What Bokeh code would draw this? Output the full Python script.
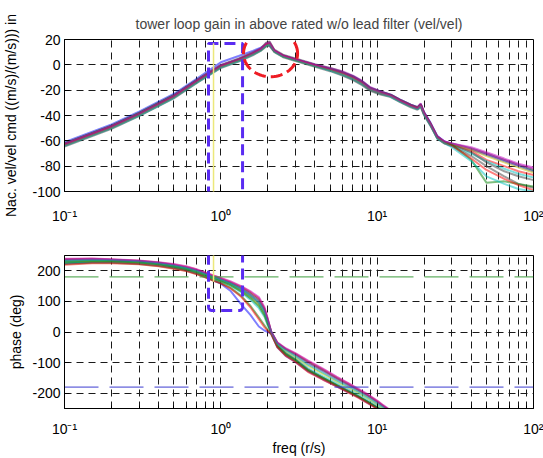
import numpy as np
from bokeh.plotting import figure
from bokeh.models import FixedTicker, PolyAnnotation, Range1d
from bokeh.layouts import column
from bokeh.embed import file_html
from bokeh.resources import INLINE

TITLE = "tower loop gain in above rated w/o lead filter (vel/vel)"
YLABEL_MAG = "Nac. vel/vel cmd ((m/s)/(m/s))) in"
YLABEL_PHASE = "phase (deg)"
XLABEL = "freq (r/s)"

X_TICKS = [0.1, 1, 10, 100]
X_TICK_LABELS = ["10\u207b\u00b9", "10\u2070", "10\u00b9", "10\u00b2"]
MAG_TICKS = [20, 0, -20, -40, -60, -80, -100]
PHASE_TICKS = [200, 100, 0, -100, -200]
PHASE_REF = [180, -180]

FREQ_MAG = [0.1, 0.2, 0.3, 0.5, 0.7, 1.0, 1.3, 1.6, 1.8, 1.95, 2.05, 2.2, 2.5, 3.0, 4.0, 5.0,
            6.0, 7.0, 8.0, 9.0, 10.5, 12.2, 14, 16.4, 18.1, 19.0, 19.9, 22, 24.2, 27, 30,
            40, 50, 65, 80, 100]

mag_c01 = [-61, -47, -37, -23, -11, 2, 7, 11, 13.5, 16, 15, 11, 7.5, 4.5, 0, -3, -6, -9, -13, -18, -21, -23.5, -27.5, -31.5, -33.5, -31, -37, -46, -56, -60.5, -63, -67, -71, -76, -80, -84]
mag_c02 = [-62, -48, -38, -24, -12, -0.5, 4.5, 9, 12, 15, 16, 11, 7, 4, -0.5, -3.5, -6, -9.5, -13.5, -18.5, -21.5, -24, -28, -32, -34, -31.5, -38, -47, -57, -61, -62, -66, -70, -75, -79, -83]
mag_c03 = [-63, -49, -39, -25, -13, -1, 4, 9, 12.5, 16.5, 17, 11, 7, 4, -0.5, -4, -7.5, -11, -15, -19.5, -22.5, -24.5, -28.5, -32.5, -34.5, -32, -38.5, -47.5, -57.5, -61, -63, -68, -75, -80, -84, -87]
mag_c04 = [-64, -50, -40, -26, -14, -2, 3, 8, 11.5, 15.5, 16.5, 10.5, 6.5, 3.5, -1, -4.5, -8, -11.5, -15.5, -20, -23, -25, -29, -33, -35, -32.5, -39, -48, -58, -62, -64, -70, -76, -82, -86, -89]
mag_c05 = [-62.5, -48.5, -38.5, -24.5, -12.5, -0.5, 4.5, 9.5, 12.5, 17, 18, 11.5, 7.5, 4.5, 0, -2.5, -5, -8.5, -12.5, -17.5, -21, -23.5, -27.5, -31.5, -33.5, -30.5, -37.5, -46.5, -56.5, -60.5, -62, -65, -69, -74, -78, -81]
mag_c06 = [-63.5, -49.5, -39.5, -25.5, -13.5, -1.5, 3.5, 8.5, 11.5, 15, 16, 10.5, 6.5, 3.5, -1, -4, -7, -10.5, -14.5, -19, -22, -24.5, -28.5, -32.5, -34, -32, -38, -47, -57, -61, -63, -67, -72, -77, -81, -85]
mag_c07 = [-64.5, -50.5, -40.5, -26.5, -14.5, -2.5, 2.5, 7.5, 11, 14.5, 15, 10, 6, 3, -1.5, -5, -8.5, -12, -16, -20.5, -23.5, -25.5, -29.5, -33.5, -35.5, -33.5, -39.5, -48.5, -58, -62, -64, -72, -80, -88, -94, -97]
mag_c08 = [-62, -48, -38, -24, -12, 0, 5, 10, 13, 17.5, 18.5, 12, 8, 5, 0.5, -2.5, -5.5, -9, -13, -18, -21, -23.5, -27.5, -31.5, -33.5, -31, -37.5, -46.5, -56.5, -61, -63, -69, -77, -84, -88, -91]
mag_c09 = [-63, -49, -39, -25, -13, -1, 4, 9, 12, 16, 17, 11, 7, 4, -0.5, -3.5, -6.5, -10, -14, -19, -22, -24, -28, -32, -34, -31.5, -38, -47, -57, -61.5, -63, -75, -93, -92, -94, -96]
mag_c10 = [-63.5, -49.5, -39.5, -25.5, -13.5, -1.5, 3.5, 8.5, 12, 16, 16.5, 11, 7, 4, -0.5, -4, -7, -10.5, -14.5, -19.5, -22.5, -24.5, -28.5, -32.5, -34.5, -32, -38.5, -47.5, -57.5, -62, -64, -74, -83, -90, -95, -99]
mag_c11 = [-64, -50, -40, -26, -14, -2, 3, 8, 11.5, 15, 16, 10.5, 6.5, 3.5, -1, -4.5, -7.5, -11, -15, -19.5, -22.5, -25, -29, -33, -35, -32.5, -39, -48, -58, -62, -65, -76, -88, -94, -98, -100]
mag_c12 = [-62.5, -48.5, -38.5, -24.5, -12.5, -0.5, 4.5, 9.5, 12.5, 16.5, 17.5, 11.5, 7.5, 4.5, 0, -3, -6, -9.5, -13.5, -18.5, -21.5, -24, -28, -32, -34, -31, -37.5, -46.5, -56.5, -60.5, -62, -66, -70, -75, -79, -82]

FREQ_PHASE = [0.1, 0.15, 0.2, 0.3, 0.4, 0.5, 0.6, 0.7, 0.8, 0.9, 1.0, 1.15, 1.35, 1.55, 1.75, 1.9,
              2.0, 2.1, 2.3, 2.6, 3.0, 3.6, 4.5, 5.5, 6.5, 7.6, 8.8, 10, 11, 12.5]

ph_c01 = [224, 228, 228, 224, 218, 210, 202, 192, 180, 168, 158, 135, 90, 55, 18, 5, 0, -6, -50, -78, -98, -128, -155, -178, -196, -214, -233, -250, -262, -278]
ph_c02 = [222, 226, 226, 222, 216, 208, 200, 190, 179, 168, 160, 145, 118, 85, 48, 22, 6, -5, -48, -75, -95, -126, -152, -175, -194, -212, -231, -249, -262, -278]
ph_c03 = [238, 239, 237, 233, 227, 221, 213, 204, 193, 184, 176, 164, 148, 130, 110, 78, 40, 0, -35, -55, -71, -95, -122, -148, -168, -188, -207, -226, -242, -262]
ph_c04 = [226, 230, 230, 226, 220, 212, 204, 194, 183, 173, 165, 152, 130, 105, 78, 50, 20, -3, -42, -68, -88, -118, -145, -168, -187, -205, -224, -242, -256, -272]
ph_c05 = [235, 237, 235, 231, 225, 218, 210, 201, 190, 180, 172, 160, 142, 122, 100, 70, 35, 1, -38, -58, -76, -102, -128, -154, -174, -193, -212, -231, -246, -265]
ph_c06 = [230, 233, 232, 228, 222, 215, 207, 197, 186, 176, 168, 156, 136, 114, 90, 60, 28, -2, -40, -63, -82, -110, -137, -161, -181, -199, -218, -237, -251, -268]
ph_c07 = [232, 235, 234, 230, 224, 216, 208, 199, 188, 178, 170, 158, 139, 118, 95, 65, 30, -1, -44, -70, -90, -122, -150, -173, -192, -210, -229, -246, -259, -275]
ph_c08 = [237, 238, 236, 232, 226, 219, 211, 202, 191, 181, 173, 161, 145, 126, 105, 75, 38, 1, -36, -56, -73, -98, -125, -151, -171, -190, -209, -228, -243, -262]
ph_c09 = [228, 231, 231, 227, 221, 213, 205, 195, 184, 174, 166, 153, 133, 110, 85, 55, 24, -3, -46, -72, -92, -124, -150, -174, -193, -211, -230, -247, -260, -276]
ph_c10 = [220, 225, 225, 221, 215, 207, 199, 189, 178, 167, 159, 143, 115, 80, 42, 16, 4, -7, -50, -78, -98, -130, -156, -178, -197, -215, -234, -251, -264, -279]
ph_c11 = [233, 236, 235, 231, 225, 217, 209, 200, 189, 179, 171, 159, 140, 119, 97, 67, 32, 0, -39, -60, -79, -106, -133, -158, -178, -196, -215, -234, -248, -266]
ph_c12 = [239, 240, 238, 234, 228, 222, 215, 205, 194, 185, 177, 166, 150, 133, 114, 82, 42, 1, -34, -53, -69, -93, -120, -146, -166, -186, -205, -224, -240, -260]

MAG_CURVES = [mag_c01, mag_c02, mag_c03, mag_c04, mag_c05, mag_c06,
              mag_c07, mag_c08, mag_c09, mag_c10, mag_c11, mag_c12]
PHASE_CURVES = [ph_c01, ph_c02, ph_c03, ph_c04, ph_c05, ph_c06,
                ph_c07, ph_c08, ph_c09, ph_c10, ph_c11, ph_c12]
COLORS = ["#0000ff", "#008000", "#ff0000", "#00bfbf", "#bf00bf", "#bfbf00", "#404040",
          "#404040", "#008000", "#ff0000", "#00bfbf", "#bf00bf"]

FONT = "Liberation Sans"
GRID_DASH = "7 5"
minor = [m * d for d in (0.1, 1, 10) for m in range(2, 10)]


def style(p, yticks, ylabel, ylabel_standoff, xlabel_standoff):
    p.xaxis.ticker = FixedTicker(ticks=X_TICKS, minor_ticks=minor)
    p.xaxis.major_label_overrides = {t: l for t, l in zip(X_TICKS, X_TICK_LABELS)}
    p.yaxis.ticker = FixedTicker(ticks=yticks)
    p.yaxis.major_label_overrides = {t: str(t) for t in yticks}
    p.yaxis.axis_label = ylabel
    p.yaxis.axis_label_standoff = ylabel_standoff
    for ax in (p.xaxis, p.yaxis):
        ax.major_label_text_font = FONT
        ax.major_label_text_font_size = "14px"
        ax.major_label_text_color = "black"
        ax.axis_label_text_font = FONT
        ax.axis_label_text_font_size = "14px"
        ax.axis_label_text_font_style = "normal"
        ax.axis_label_text_color = "black"
        ax.axis_line_color = "black"
        ax.major_tick_line_color = "black"
        ax.minor_tick_line_color = "black"
        ax.major_tick_in = 5
        ax.major_tick_out = 0
        ax.minor_tick_in = 3
        ax.minor_tick_out = 0
    p.yaxis.major_label_standoff = 4
    p.xaxis.major_label_standoff = xlabel_standoff
    p.xgrid.grid_line_color = "#1a1a1a"
    p.xgrid.grid_line_dash = GRID_DASH
    p.xgrid.minor_grid_line_color = "#1a1a1a"
    p.xgrid.minor_grid_line_dash = GRID_DASH
    p.ygrid.grid_line_color = "#1a1a1a"
    p.ygrid.grid_line_dash = GRID_DASH
    p.outline_line_color = "black"
    p.outline_line_alpha = 1
    p.background_fill_color = "white"
    p.border_fill_color = "white"


p1 = figure(width=543, height=226, x_axis_type="log", x_range=Range1d(0.1, 100),
            y_range=Range1d(-100, 20), output_backend="svg", toolbar_location=None,
            min_border_left=64, min_border_right=10, min_border_top=39, min_border_bottom=34,
            title=TITLE)
p1.title.text_font = FONT
p1.title.text_font_size = "14px"
p1.title.text_font_style = "normal"
p1.title.align = "center"
p1.title.standoff = 16
style(p1, MAG_TICKS, YLABEL_MAG, 10, 16)

for vals, c in zip(MAG_CURVES, COLORS):
    p1.line(FREQ_MAG, vals, line_color=c, line_width=2, line_alpha=0.5)

p2 = figure(width=543, height=232, x_axis_type="log", x_range=Range1d(0.1, 100),
            y_range=Range1d(-250, 250), output_backend="svg", toolbar_location=None,
            min_border_left=64, min_border_right=10, min_border_top=29, min_border_bottom=50)
style(p2, PHASE_TICKS, YLABEL_PHASE, 5, 12)
p2.xaxis.axis_label = XLABEL
p2.xaxis.axis_label_standoff = 0

for vals, c in zip(PHASE_CURVES, COLORS):
    p2.line(FREQ_PHASE, vals, line_color=c, line_width=2, line_alpha=0.5)

p2.line([X_TICKS[0], X_TICKS[-1]], [PHASE_REF[0]] * 2, line_color="#3c9c3c", line_width=1, line_dash="34 11")
p2.line([X_TICKS[0], X_TICKS[-1]], [PHASE_REF[1]] * 2, line_color="#3c3cd0", line_width=1, line_dash="34 11")

# --- hand-drawn annotations ---
RECT_COLOR = "#5a2cf2"
rect_f0, rect_f1 = 0.834, 1.377
p1.add_layout(PolyAnnotation(xs=[rect_f0, rect_f0, rect_f1, rect_f1], ys=[-400, 16.9, 16.9, -400],
                             line_color=RECT_COLOR, line_alpha=1, line_width=3, line_dash="11 6",
                             fill_alpha=0))
t = np.linspace(0, np.pi / 2, 6)
lx0, lx1 = np.log10(rect_f0), np.log10(rect_f1)
rx, ry = 0.02, 12
bx = [lx0] + list(lx0 + rx - rx * np.cos(t)) + list(lx1 - rx + rx * np.sin(t)) + [lx1]
by = [700] + list(70 + ry - ry * np.sin(t)) + list(70 + ry - ry * np.cos(t)) + [700]
p2.add_layout(PolyAnnotation(xs=list(10 ** np.array(bx)), ys=by, line_color=RECT_COLOR, line_alpha=1,
                             line_width=3, line_dash="11 6", fill_alpha=0))
p1.add_layout(PolyAnnotation(xs=[0.898, 0.898], ys=[17, -400], line_color="#ece87a", line_alpha=1,
                             line_width=1.5, fill_alpha=0))
p2.add_layout(PolyAnnotation(xs=[0.898, 0.898], ys=[700, 164], line_color="#ece87a", line_alpha=1,
                             line_width=1.5, fill_alpha=0))
tt = np.linspace(0, 2 * np.pi, 80)
ex = 10 ** (0.318 + 0.173 * np.cos(tt))
ey = 9 + 18.4 * np.sin(tt)
p1.add_layout(PolyAnnotation(xs=list(ex), ys=list(ey), line_color="#ee1c24", line_alpha=1, line_width=3,
                             line_dash="12 5", fill_alpha=0))

layout = column(p1, p2, spacing=0)
open("out.html", "w").write(file_html(layout, INLINE))
